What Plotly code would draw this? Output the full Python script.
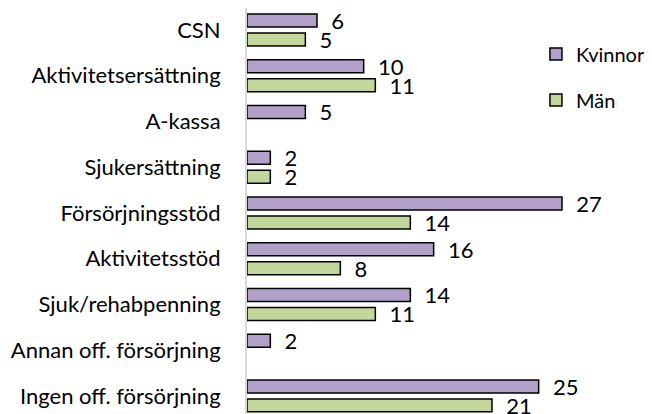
import plotly.graph_objects as go

categories = [
    "CSN",
    "Aktivitetsersättning",
    "A-kassa",
    "Sjukersättning",
    "Försörjningsstöd",
    "Aktivitetsstöd",
    "Sjuk/rehabpenning",
    "Annan off. försörjning",
    "Ingen off. försörjning",
]
kvinnor = [6, 10, 5, 2, 27, 16, 14, 2, 25]
man = [5, 11, None, 2, 14, 8, 11, None, 21]

FONT = "Lato"
SIZE = 22


def labels(values):
    return ["  " + str(v) if v is not None else "" for v in values]


fig = go.Figure()
fig.add_trace(
    go.Bar(
        y=categories,
        x=kvinnor,
        name="Kvinnor",
        orientation="h",
        marker=dict(color="#B1A0C7", line=dict(color="black", width=1.5)),
        text=labels(kvinnor),
        textposition="outside",
        constraintext="none",
        textfont=dict(family=FONT, size=SIZE, color="black"),
        cliponaxis=False,
        legendgroup="k",
    )
)
fig.add_trace(
    go.Bar(
        y=categories,
        x=man,
        name="Män",
        orientation="h",
        marker=dict(color="#C4D79B", line=dict(color="black", width=1.5)),
        text=labels(man),
        textposition="outside",
        constraintext="none",
        textfont=dict(family=FONT, size=SIZE, color="black"),
        cliponaxis=False,
        legendgroup="m",
    )
)

fig.update_layout(
    width=652,
    height=414,
    margin=dict(l=239, r=63, t=0, b=0, autoexpand=False),
    plot_bgcolor="white",
    paper_bgcolor="white",
    barmode="group",
    bargap=0.17,
    bargroupgap=0.32,
    font=dict(family=FONT, size=SIZE, color="black"),
    legend=dict(
        x=0.8256,
        y=0.9357,
        xanchor="left",
        yanchor="top",
        bgcolor="rgba(0,0,0,0)",
        traceorder="grouped",
        tracegroupgap=17,
        itemwidth=30,
        font=dict(family=FONT, size=20),
    ),
)
fig.update_xaxes(
    range=[0, 30],
    showgrid=False,
    showticklabels=False,
    zeroline=False,
    showline=False,
)
fig.update_yaxes(
    categoryorder="array",
    categoryarray=categories,
    range=[8.57, -0.48],
    showgrid=False,
    showline=True,
    linecolor="#D9D9D9",
    linewidth=2,
    ticks="",
    ticklabelstandoff=20,
)

fig.write_html("out.html")
